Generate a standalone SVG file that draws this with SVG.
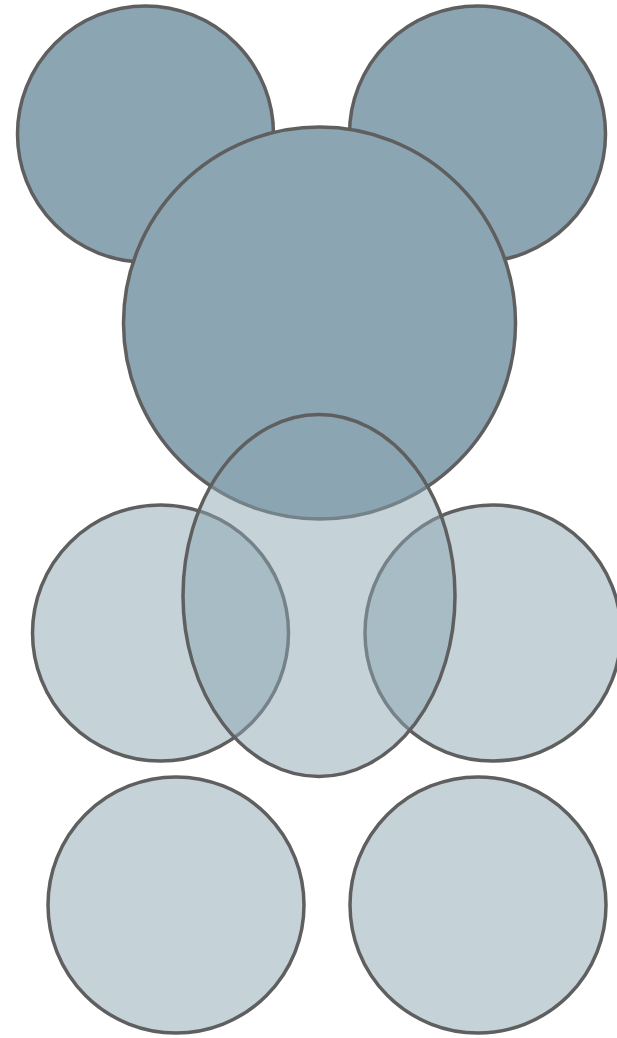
<svg xmlns="http://www.w3.org/2000/svg" width="617" height="1038" viewBox="0 0 617 1038">
  <style>
    .solid { fill: #8ca5b2; stroke: #5f5f5f; stroke-width: 3.5; }
    .soft { fill: #8ca5b2; fill-opacity: 0.5; stroke: #5f5f5f; stroke-width: 3.5; }
  </style>
  <rect width="617" height="1038" fill="#ffffff"/>
  <g id="ear-left"><circle class="solid" cx="145.5" cy="134" r="128"/></g>
  <g id="ear-right"><circle class="solid" cx="477.5" cy="134" r="128"/></g>
  <g id="head"><circle class="solid" cx="319.5" cy="323" r="196"/></g>
  <g id="arm-left"><circle class="soft" cx="160.5" cy="633" r="128"/></g>
  <g id="arm-right"><circle class="soft" cx="493" cy="633" r="128"/></g>
  <g id="leg-left"><circle class="soft" cx="176" cy="905" r="128"/></g>
  <g id="leg-right"><circle class="soft" cx="478" cy="905" r="128"/></g>
  <g id="body"><ellipse class="soft" cx="319" cy="595.5" rx="136" ry="181"/></g>
  <g id="connectors"></g>
</svg>
